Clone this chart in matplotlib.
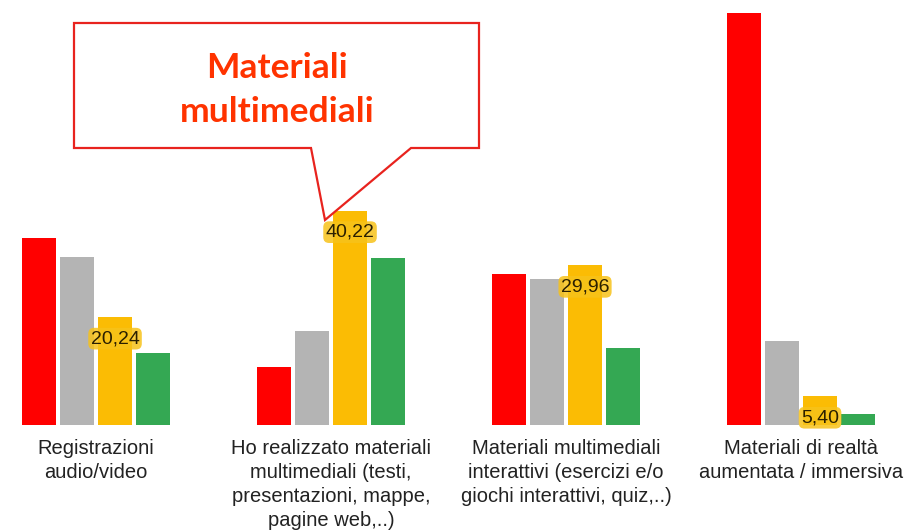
import matplotlib
matplotlib.use("Agg")
import matplotlib.pyplot as plt
from matplotlib.patches import Polygon
import numpy as np

categories = [
    "Registrazioni\naudio/video",
    "Ho realizzato materiali\nmultimediali (testi,\npresentazioni, mappe,\npagine web,..)",
    "Materiali multimediali\ninterattivi (esercizi e/o\ngiochi interattivi, quiz,..)",
    "Materiali di realtà\naumentata / immersiva",
]
series_red = [35.1, 10.9, 28.3, 77.3]
series_gray = [31.5, 17.6, 27.4, 15.8]
series_yellow = [20.24, 40.22, 29.96, 5.40]
series_green = [13.5, 31.3, 14.4, 2.1]
yellow_labels = ["20,24", "40,22", "29,96", "5,40"]
callout_text = "Materiali\nmultimediali"

colors = ["#FF0000", "#B4B4B4", "#FBBC04", "#34A853"]

W, H = 911, 531
fig = plt.figure(figsize=(W / 100, H / 100), dpi=100)
ax = fig.add_axes([0, 1 - 425 / H, 1, 425 / H])

x = np.arange(len(categories))
step = 0.162
width = 0.145
all_series = [series_red, series_gray, series_yellow, series_green]
for i, (vals, c) in enumerate(zip(all_series, colors)):
    ax.bar(x + (i - 1.5) * step, vals, width=width, color=c, linewidth=0)

for xi, v, lab in zip(x, series_yellow, yellow_labels):
    ax.annotate(lab, (xi + 0.5 * step, v), xytext=(0, -15.5), textcoords="offset points",
                ha="center", va="center", fontsize=14, color="#2a1f00",
                family="Liberation Sans",
                bbox=dict(boxstyle="round,pad=0.12,rounding_size=0.3", fc="#F7C21A",
                          ec="none", alpha=0.85))

ax.set_xlim(-96 / 235, (W - 96) / 235)
ax.set_ylim(0, 425 / 5.33)
ax.axis("off")

for xi, lab in zip(x, categories):
    ax.annotate(lab, (xi, 0), xytext=(0, -10), textcoords="offset points",
                ha="center", va="top", fontsize=14.5, color="#222222",
                family="Liberation Sans", linespacing=1.33)

# callout box in figure pixel coordinates
pts = [(74, 23), (479, 23), (479, 148), (411, 148), (325, 220), (311, 148), (74, 148)]
poly = Polygon([(px / W, 1 - py / H) for px, py in pts], closed=True,
               transform=fig.transFigure, fc="white", ec="#E8231E", lw=1.6)
fig.add_artist(poly)
fig.text(277 / W, 1 - 90 / H, callout_text, ha="center", va="center",
         fontsize=25.5, fontweight="bold", color="#FF3300", family="Lato",
         linespacing=1.45)

fig.savefig("out.png", dpi=100)
